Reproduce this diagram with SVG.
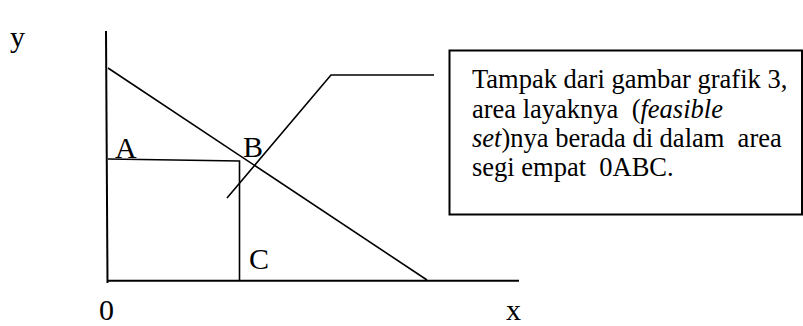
<svg xmlns="http://www.w3.org/2000/svg" width="803" height="326" viewBox="0 0 803 326">
<style>
.ln{stroke:#000;stroke-width:1.6;fill:none}
.ax{stroke:#000;stroke-width:2;fill:none}
text{font-family:'Liberation Serif','Times New Roman',serif;fill:#000}
.lb{font-size:30px}
.bt{font-size:26.5px}
</style>
<rect width="803" height="326" fill="#fff"/>
<g id="connectors">
<line class="ax" x1="106" y1="31" x2="107.5" y2="283"/>
<line class="ax" x1="107" y1="280.7" x2="519" y2="280.7"/>
<line class="ln" x1="108" y1="68" x2="427" y2="280"/>
<polyline class="ln" points="108,159 239.5,161 239.5,280"/>
<polyline class="ln" points="227,198 331,75 434,75"/>
</g>
<g id="axis-labels">
<text class="lb" x="10" y="47" font-family="Liberation Serif, serif">y</text>
<text class="lb" x="99" y="320" font-family="Liberation Serif, serif">0</text>
<text class="lb" x="506" y="320" font-family="Liberation Serif, serif" font-size="29">x</text>
</g>
<g id="point-A"><text class="lb" x="115" y="158" font-family="Liberation Serif, serif">A</text></g>
<g id="point-B"><text class="lb" x="243" y="157" font-family="Liberation Serif, serif">B</text></g>
<g id="point-C"><text class="lb" x="249" y="268.5" font-family="Liberation Serif, serif">C</text></g>
<g id="callout" font-family="Liberation Serif, serif">
<rect x="449.5" y="50.5" width="352.5" height="164" fill="none" stroke="#000" stroke-width="2"/>
<text class="bt" x="472" y="88">Tampak dari gambar grafik 3,</text>
<text class="bt" x="472" y="117.5" xml:space="preserve">area layaknya  (<tspan font-style="italic">feasible</tspan></text>
<text class="bt" x="472" y="147" xml:space="preserve"><tspan font-style="italic">set</tspan>)nya berada di dalam  area</text>
<text class="bt" x="472" y="176" xml:space="preserve">segi empat  0ABC.</text>
</g>
</svg>
